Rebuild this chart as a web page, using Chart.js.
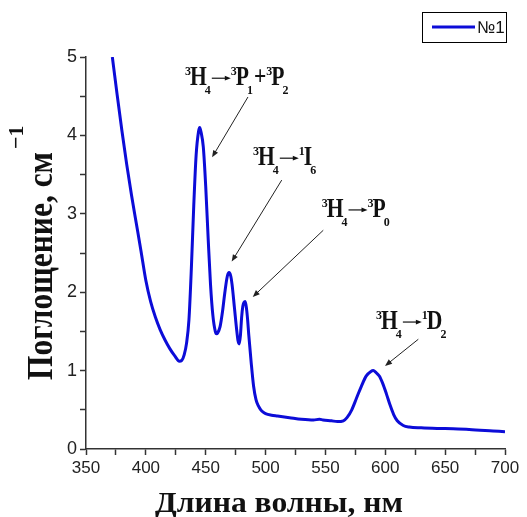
<!DOCTYPE html>
<html>
<head>
<meta charset="utf-8">
<script src="https://cdn.jsdelivr.net/npm/chart.js@4"></script>
<style>
  html, body { margin: 0; padding: 0; background: #fff; }
  #wrap { width: 527px; height: 517px; }
</style>
</head>
<body>
<div id="wrap"><canvas id="chart" width="527" height="517"></canvas></div>
<script>
const wavelength = [372, 376, 380, 384, 388, 392, 396, 400, 404, 408, 412, 416, 420, 424, 428, 430, 432, 434, 436, 438, 440, 442, 444, 445, 446, 448, 450, 452, 454, 456, 458, 459, 460, 462, 464, 466, 468, 469.5, 471, 472, 474, 476, 477, 478, 479, 480, 481, 482, 483, 484, 485, 486, 488, 490, 492, 494, 496, 498, 500, 505, 510, 520, 530, 540, 545, 548, 555, 560, 565, 568, 572, 576, 580, 584, 588, 590, 592, 595, 598, 601, 604, 607, 610, 615, 620, 630, 650, 670, 690, 700];
const absorbance = [5.0, 4.52, 4.06, 3.63, 3.24, 2.88, 2.52, 2.15, 1.88, 1.68, 1.52, 1.39, 1.28, 1.19, 1.12, 1.13, 1.2, 1.35, 1.65, 2.3, 3.1, 3.75, 4.05, 4.1, 4.05, 3.85, 3.35, 2.7, 2.1, 1.7, 1.5, 1.47, 1.48, 1.56, 1.75, 2.0, 2.2, 2.25, 2.2, 2.1, 1.8, 1.5, 1.38, 1.34, 1.45, 1.68, 1.82, 1.87, 1.88, 1.8, 1.65, 1.45, 1.1, 0.8, 0.63, 0.55, 0.5, 0.47, 0.45, 0.43, 0.42, 0.4, 0.38, 0.37, 0.38, 0.37, 0.36, 0.35, 0.36, 0.4, 0.5, 0.65, 0.8, 0.93, 0.99, 1.0, 0.98, 0.93, 0.83, 0.7, 0.56, 0.44, 0.36, 0.3, 0.28, 0.27, 0.26, 0.25, 0.23, 0.22];

const xTitle = "Длина волны, нм";
const yTitle = "Поглощение, см";
const yTitleSup = "\u22121";
const seriesName = "№1";

// label anchors [wavelength, absorbance] and arrow [from, to] in data units
const labels = [
  { at: [432.7, 4.64], parts: [["3", "sup"], ["H", "n"], ["4", "sub"], ["", "arr"], ["3", "sup"], ["P", "n"], ["1", "sub"], ["+", "n"], ["3", "sup"], ["P", "n"], ["2", "sub"]], arrow: [[485.3, 4.49], [455.3, 3.72]] },
  { at: [489.5, 3.62], parts: [["3", "sup"], ["H", "n"], ["4", "sub"], ["", "arr"], ["1", "sup"], ["I", "n"], ["6", "sub"]], arrow: [[513.5, 3.43], [471.7, 2.39]] },
  { at: [546.9, 2.96], parts: [["3", "sup"], ["H", "n"], ["4", "sub"], ["", "arr"], ["3", "sup"], ["P", "n"], ["0", "sub"]], arrow: [[548.2, 2.79], [489.3, 1.94]] },
  { at: [592.3, 1.53], parts: [["3", "sup"], ["H", "n"], ["4", "sub"], ["", "arr"], ["1", "sup"], ["D", "n"], ["2", "sub"]], arrow: [[627.6, 1.40], [599.8, 1.06]] },
];

const ink = "#111";
const lineColor = "#0c0cd8";

function arrow(ctx, x1, y1, x2, y2, head) {
  const a = Math.atan2(y2 - y1, x2 - x1);
  ctx.beginPath();
  ctx.moveTo(x1, y1);
  ctx.lineTo(x2 - Math.cos(a) * head * 0.8, y2 - Math.sin(a) * head * 0.8);
  ctx.stroke();
  ctx.beginPath();
  ctx.moveTo(x2, y2);
  ctx.lineTo(x2 - head * Math.cos(a) + head * 0.4 * Math.sin(a), y2 - head * Math.sin(a) - head * 0.4 * Math.cos(a));
  ctx.lineTo(x2 - head * Math.cos(a) - head * 0.4 * Math.sin(a), y2 - head * Math.sin(a) + head * 0.4 * Math.cos(a));
  ctx.closePath();
  ctx.fill();
}

function drawRich(ctx, x, y, parts) {
  for (const [t, kind] of parts) {
    if (kind === "n") {
      ctx.font = 'bold 27px "Liberation Serif"';
      const w = ctx.measureText(t).width * 0.8;
      ctx.save();
      ctx.translate(x, y);
      ctx.scale(0.8, 1);
      ctx.fillText(t, 0, 0);
      ctx.restore();
      x += w;
    } else if (kind === "sup") {
      ctx.font = 'bold 12px "Liberation Serif"';
      ctx.fillText(t, x, y - 10);
      x += ctx.measureText(t).width - 1;
    } else if (kind === "sub") {
      ctx.font = 'bold 12px "Liberation Serif"';
      ctx.fillText(t, x - 2, y + 9);
      x += ctx.measureText(t).width - 1;
    } else {
      ctx.lineWidth = 1.2;
      arrow(ctx, x, y - 7, x + 19, y - 7, 6);
      x += 19;
    }
  }
}

const decor = {
  id: "decor",
  afterDraw(chart) {
    const ctx = chart.ctx;
    const xs = chart.scales.x, ys = chart.scales.y;
    ctx.save();
    ctx.fillStyle = ink;
    ctx.strokeStyle = ink;
    ctx.textBaseline = "alphabetic";
    ctx.textAlign = "left";

    labels.forEach((l) => {
      drawRich(ctx, xs.getPixelForValue(l.at[0]), ys.getPixelForValue(l.at[1]), l.parts);
      ctx.strokeStyle = "#222";
      ctx.fillStyle = "#222";
      ctx.lineWidth = 1;
      const [a, b] = l.arrow;
      arrow(ctx, xs.getPixelForValue(a[0]), ys.getPixelForValue(a[1]), xs.getPixelForValue(b[0]), ys.getPixelForValue(b[1]), 7);
      ctx.fillStyle = ink;
      ctx.strokeStyle = ink;
    });

    // x title
    ctx.font = 'bold 30px "Liberation Serif"';
    let w = ctx.measureText(xTitle).width;
    ctx.save();
    ctx.translate(279, 512);
    ctx.scale(248 / w, 1);
    ctx.textAlign = "center";
    ctx.fillText(xTitle, 0, 0);
    ctx.restore();

    // y title
    ctx.font = 'bold 36px "Liberation Serif"';
    w = ctx.measureText(yTitle).width;
    ctx.save();
    ctx.translate(52, 380);
    ctx.rotate(-Math.PI / 2);
    ctx.save();
    ctx.scale(228 / w, 1);
    ctx.fillText(yTitle, 0, 0);
    ctx.restore();
    ctx.font = 'bold 22px "Liberation Serif"';
    ctx.fillText(yTitleSup, 231, -29);
    ctx.restore();

    // legend
    const ds = chart.data.datasets[0];
    ctx.lineWidth = 1;
    ctx.strokeStyle = "#000";
    ctx.strokeRect(422.5, 12.5, 84, 30);
    ctx.strokeStyle = ds.borderColor;
    ctx.lineWidth = 3;
    ctx.beginPath();
    ctx.moveTo(432, 27);
    ctx.lineTo(475, 27);
    ctx.stroke();
    ctx.font = '17px "Liberation Sans"';
    ctx.textBaseline = "middle";
    ctx.fillStyle = ink;
    ctx.fillText(ds.label, 477, 28);
    ctx.restore();
  },
};

new Chart(document.getElementById("chart"), {
  type: "line",
  data: {
    datasets: [
      {
        label: seriesName,
        data: wavelength.map((x, i) => ({ x, y: absorbance[i] })),
        borderColor: lineColor,
        borderWidth: 3,
        pointRadius: 0,
        cubicInterpolationMode: "monotone",
        fill: false,
      },
    ],
  },
  options: {
    responsive: false,
    animation: false,
    layout: { padding: { top: 57, right: 22, left: 0, bottom: 0 } },
    plugins: { legend: { display: false }, tooltip: { enabled: false } },
    scales: {
      x: {
        type: "linear",
        min: 350,
        max: 700,
        afterFit: (s) => { s.height = 68; },
        ticks: {
          stepSize: 25,
          autoSkip: false,
          maxRotation: 0,
          padding: 3,
          color: "#222",
          font: { family: "Liberation Sans", size: 17 },
          callback: (v) => (v % 50 === 0 ? v : ""),
        },
        grid: { drawOnChartArea: false, tickLength: 6, tickColor: "#333", tickWidth: 1.5 },
        border: { color: "#333", width: 1.5 },
      },
      y: {
        min: 0,
        max: 5,
        afterFit: (s) => { s.width = 86; },
        ticks: {
          stepSize: 0.5,
          autoSkip: false,
          padding: 3,
          color: "#222",
          font: { family: "Liberation Sans", size: 18 },
          callback: (v) => (Number.isInteger(v) ? v : ""),
        },
        grid: { drawOnChartArea: false, tickLength: 6, tickColor: "#333", tickWidth: 1.5 },
        border: { color: "#333", width: 1.5 },
      },
    },
  },
  plugins: [decor],
});
</script>
</body>
</html>
